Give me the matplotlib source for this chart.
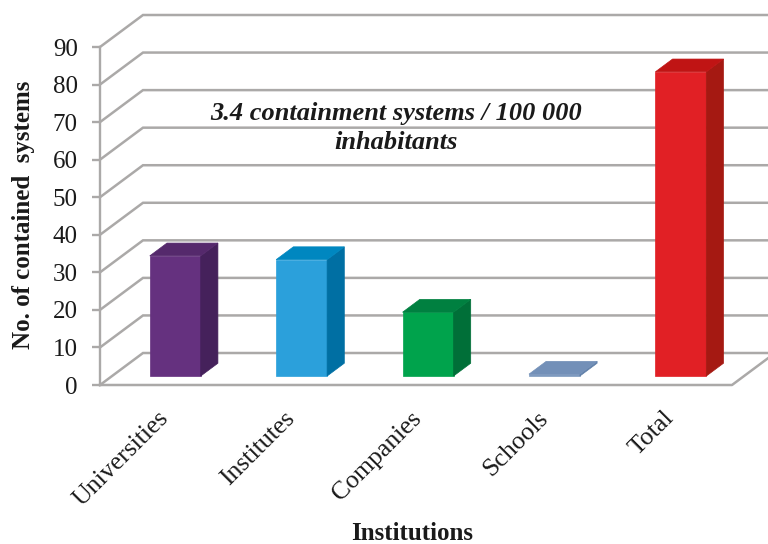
import matplotlib
matplotlib.use("Agg")
import matplotlib.pyplot as plt
from matplotlib.patches import Polygon
from matplotlib.transforms import ScaledTranslation

plt.rcParams["font.family"] = ["Liberation Serif", "DejaVu Serif"]

categories = ["Universities", "Institutes", "Companies", "Schools", "Total"]
values = [32, 31, 17, 0.5, 81]
y_ticks = [0, 10, 20, 30, 40, 50, 60, 70, 80, 90]
front_colors = ["#65317F", "#2BA0DB", "#00A34C", "#7E9ABF", "#E12025"]
side_colors = ["#45215B", "#006FA3", "#006F38", "#5F7FA8", "#A51912"]
top_colors = ["#55296C", "#0087C0", "#008040", "#7390B8", "#C01414"]
note = "3.4 containment systems / 100 000\ninhabitants"

GRID = "#ABA9A8"
TEXT = "#1a1a1a"
# Oblique projection of the chart depth, in category and value units
DEPTH_X = 43 / 126.4
DEPTH_Y = 8.52
BAR_WIDTH = 0.403
BAR_NEAR = 0.28
BAR_FAR = 0.68


def project(x, v, d):
    return (x + d * DEPTH_X, v + d * DEPTH_Y)


fig = plt.figure(figsize=(7.68, 5.44), dpi=100)
ax = fig.add_axes([100 / 768, 1 - 385 / 544, 632 / 768, 338 / 544])
ax.set_xlim(-0.5, 4.5)
ax.set_ylim(0, 90)
ax.patch.set_visible(False)
for name in ["top", "right", "bottom"]:
    ax.spines[name].set_visible(False)
ax.spines["left"].set_color(GRID)
ax.spines["left"].set_linewidth(1.7)

# Back wall, side wall and floor edges
xl, xr = ax.get_xlim()
for v in y_ticks:
    x0, y0 = project(xl, v, 0)
    x1, y1 = project(xl, v, 1)
    x2, y2 = project(xr, v, 1)
    ax.plot([x0, x1, x2], [y0, y1, y2], color=GRID, lw=1.8, clip_on=False,
            solid_joinstyle="miter", zorder=1)
fx, fy = project(xr, 0, 0)
bx, by = project(xr, 0, 1)
ax.plot([xl, fx, bx], [fy, fy, by], color=GRID, lw=1.8, clip_on=False, zorder=1)

# Bars as three visible faces
for i, (v, fc, sc, tc) in enumerate(zip(values, front_colors, side_colors, top_colors)):
    lft, rgt = i - BAR_WIDTH / 2, i + BAR_WIDTH / 2
    faces = [
        ([(lft, 0, BAR_NEAR), (rgt, 0, BAR_NEAR), (rgt, v, BAR_NEAR), (lft, v, BAR_NEAR)], fc),
        ([(rgt, 0, BAR_NEAR), (rgt, 0, BAR_FAR), (rgt, v, BAR_FAR), (rgt, v, BAR_NEAR)], sc),
        ([(lft, v, BAR_NEAR), (rgt, v, BAR_NEAR), (rgt, v, BAR_FAR), (lft, v, BAR_FAR)], tc),
    ]
    for corners, color in faces:
        ax.add_patch(Polygon([project(*c) for c in corners], closed=True, facecolor=color,
                             edgecolor=color, lw=0.5, clip_on=False, zorder=3))

ax.set_yticks(y_ticks)
ax.tick_params(axis="y", length=6, width=1.7, color=GRID, labelsize=18, pad=10,
               labelcolor=TEXT)
ax.set_xticks(range(len(categories)))
ax.set_xticklabels(categories, rotation=45, ha="right", va="top", rotation_mode="anchor",
                   fontsize=18.5, color=TEXT)
ax.tick_params(axis="x", length=0, pad=16)
label_shift = ScaledTranslation(-6 / 100, 0, fig.dpi_scale_trans)
for lab in ax.get_xticklabels():
    lab.set_transform(lab.get_transform() + label_shift)

fig.text(24 / 768, 1 - 215 / 544, "No. of contained  systems", rotation=90, ha="center",
         va="center", fontsize=18, fontweight="bold", color=TEXT)
fig.text(412 / 768, 1 - 534 / 544, "Institutions", ha="center", va="center",
         fontsize=18, fontweight="bold", color=TEXT)
fig.text(396 / 768, 1 - 128 / 544, note, ha="center", va="center", fontsize=19,
         fontweight="bold", fontstyle="italic", color=TEXT, linespacing=1.3)

fig.savefig("out.png", dpi=100, facecolor="white")
